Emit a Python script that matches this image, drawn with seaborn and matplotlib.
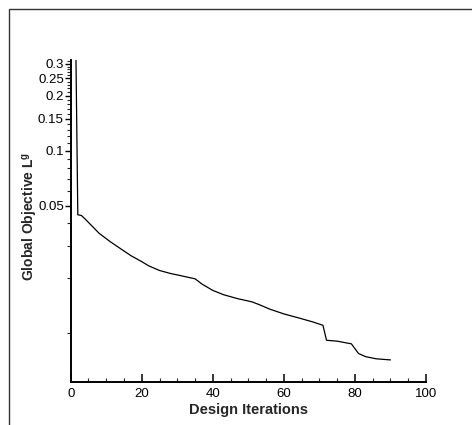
import numpy as np
import pandas as pd
import matplotlib
matplotlib.use("Agg")
import matplotlib.pyplot as plt
from matplotlib.patches import Rectangle
from matplotlib.ticker import FixedLocator, FixedFormatter, NullFormatter
import seaborn as sns

# Convergence history of the global objective
iterations = [1, 2, 3, 4, 6, 8, 11, 14, 17, 20, 22, 25, 28, 31, 35, 37, 40, 43,
              47, 51, 53, 56, 60, 64, 68, 71, 72, 75, 79, 81, 83, 86, 90]
objective = [2.0, 0.0445, 0.0441, 0.0423, 0.0386, 0.0352, 0.0318, 0.0290, 0.0265,
             0.0246, 0.0233, 0.0220, 0.0212, 0.0206, 0.0198, 0.0185, 0.0171, 0.0162,
             0.0154, 0.0148, 0.0143, 0.0135, 0.0127, 0.0121, 0.0115, 0.0110, 0.0091,
             0.0090, 0.0087, 0.0077, 0.0074, 0.0072, 0.0071]

x_major = [0, 20, 40, 60, 80, 100]
x_minor = [5, 10, 15, 25, 30, 35, 45, 50, 55, 65, 70, 75, 85, 90, 95]
y_major = [0.05, 0.1, 0.15, 0.2, 0.25, 0.3]
y_major_labels = ["0.05", "0.1", "0.15", "0.2", "0.25", "0.3"]
y_minor = [v / 100 for v in range(1, 32) if v not in (5, 10, 15, 20, 25, 30)]

sns.set_style("ticks")
plt.rcParams["font.family"] = ["Liberation Sans", "DejaVu Sans"]
plt.rcParams["mathtext.fontset"] = "custom"
plt.rcParams["mathtext.rm"] = "Liberation Sans"
plt.rcParams["mathtext.bf"] = "Liberation Sans:bold"

df = pd.DataFrame({"iteration": iterations, "objective": objective})

fig = plt.figure(figsize=(4.72, 4.25), dpi=100)
ax = fig.add_axes([70.7 / 472, 1 - 382 / 425, (426 - 70.7) / 472, (382 - 60) / 425])

sns.lineplot(data=df, x="iteration", y="objective", ax=ax, color="black",
             linewidth=0.9, estimator=None, sort=False)

ax.set_yscale("log")
ax.set_xlim(0, 100)
ax.set_ylim(0.00537, 0.315)

ax.xaxis.set_major_locator(FixedLocator(x_major))
ax.xaxis.set_minor_locator(FixedLocator(x_minor))
ax.yaxis.set_major_locator(FixedLocator(y_major))
ax.yaxis.set_major_formatter(FixedFormatter(y_major_labels))
ax.yaxis.set_minor_locator(FixedLocator(y_minor))
ax.yaxis.set_minor_formatter(NullFormatter())

ax.tick_params(axis="x", which="major", direction="in", length=6, width=1.1,
               labelsize=9.5, pad=4.5, colors="black")
ax.tick_params(axis="x", which="minor", direction="in", length=3, width=0.8)
ax.tick_params(axis="y", which="major", direction="out", length=4, width=1.0,
               labelsize=9.5, pad=1, colors="black")
ax.tick_params(axis="y", which="minor", direction="out", length=3, width=0.8)

for side in ("top", "right"):
    ax.spines[side].set_visible(False)
for side in ("left", "bottom"):
    ax.spines[side].set_color("black")
    ax.spines[side].set_linewidth(1.4)

ax.set_xlabel("Design Iterations", fontsize=10.5, fontweight="bold", labelpad=2)
ax.set_ylabel(r"Global Objective L$^{\mathbf{g}}$", fontsize=10,
              fontweight="bold")
ax.yaxis.set_label_coords(-0.085, 0.515)

# outer frame
fig.patches.append(Rectangle((9 / 472, -0.1), 1.2, 1 - 9 / 425 + 0.1,
                             transform=fig.transFigure, fill=False,
                             edgecolor="#333333", linewidth=1.0))

fig.savefig("out.png", dpi=100)
